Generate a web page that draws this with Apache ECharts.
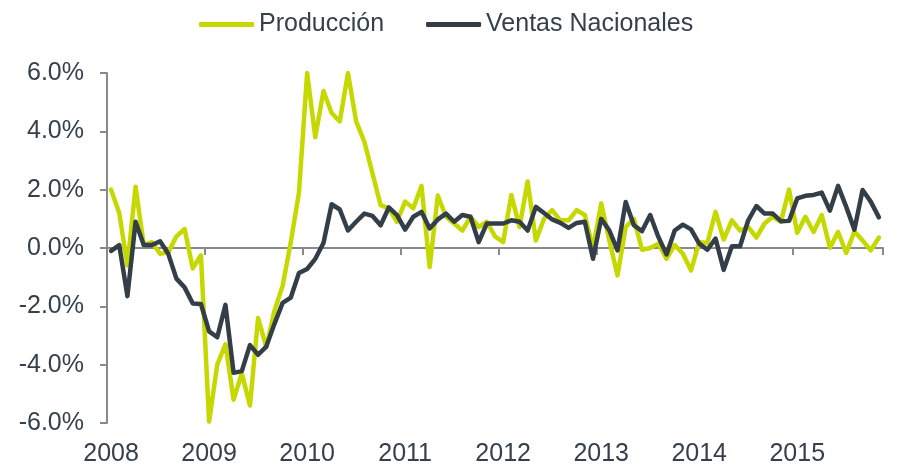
<!DOCTYPE html>
<html>
<head>
<meta charset="utf-8">
<script src="https://cdn.jsdelivr.net/npm/echarts@6/dist/echarts.min.js"></script>
<style>
html,body{margin:0;padding:0;background:#fff;}
#chart{width:898px;height:466px;}
</style>
</head>
<body>
<div id="chart"></div>
<script>
const years = ['2008','2009','2010','2011','2012','2013','2014','2015'];
const monthsInLastYear = 11;
const seriesNames = ['Producción', 'Ventas Nacionales'];

const produccion = [
  2.0, 1.2, -0.6, 2.1, 0.1, 0.2, -0.2, -0.15, 0.4, 0.65, -0.7, -0.25,
  -5.95, -4.0, -3.3, -5.2, -4.3, -5.4, -2.4, -3.4, -2.15, -1.3, 0.2, 1.9,
  6.0, 3.8, 5.38, 4.63, 4.34, 6.0, 4.34, 3.65, 2.56, 1.47, 1.36, 0.9,
  1.59, 1.36, 2.13, -0.65, 1.8, 1.07, 0.84, 0.6, 1.07, 0.72, 0.9, 0.4,
  0.2, 1.82, 0.72, 2.28, 0.26, 1.0, 1.3, 0.95, 0.95, 1.3, 1.13, -0.02,
  1.53, 0.26, -0.94, 0.72, 1.0, -0.06, 0.0, 0.15, -0.37, 0.1, -0.2, -0.77,
  0.2, 0.17, 1.24, 0.29, 0.95, 0.6, 0.72, 0.36, 0.84, 1.07, 0.9, 2.0,
  0.52, 1.07, 0.55, 1.13, 0.01, 0.55, -0.17, 0.57, 0.26, -0.08, 0.36
];

const ventasNacionales = [
  -0.1, 0.1, -1.65, 0.9, 0.1, 0.1, 0.23, -0.2, -1.05, -1.35, -1.9, -1.92,
  -2.86, -3.06, -1.95, -4.28, -4.22, -3.33, -3.66, -3.38, -2.6, -1.88, -1.7, -0.86,
  -0.72, -0.37, 0.17, 1.5, 1.32, 0.6, 0.9, 1.18, 1.1, 0.78, 1.39, 1.13,
  0.63, 1.07, 1.24, 0.67, 0.98, 1.18, 0.9, 1.13, 1.07, 0.2, 0.84, 0.84,
  0.84, 0.95, 0.9, 0.6, 1.41, 1.2, 0.98, 0.86, 0.69, 0.86, 0.9, -0.37,
  1.0, 0.6, -0.08, 1.58, 0.78, 0.58, 1.13, 0.38, -0.22, 0.6, 0.8, 0.64,
  0.15, -0.06, 0.32, -0.75, 0.06, 0.06, 0.95, 1.44, 1.18, 1.18, 0.92, 0.93,
  1.7, 1.79, 1.82, 1.9, 1.28, 2.13, 1.41, 0.63, 1.99, 1.59, 1.05
];

// month categories (axis only)
const categories = [];
years.forEach((y, yi) => {
  const n = yi === years.length - 1 ? monthsInLastYear : 12;
  for (let m = 1; m <= n; m++) categories.push(y + '-' + (m < 10 ? '0' + m : m));
});

const textColor = '#36404B';
const axisColor = '#898989';
const fontFamily = '"Liberation Sans", Arial, sans-serif';

const chart = echarts.init(document.getElementById('chart'));
chart.setOption({
  animation: false,
  backgroundColor: '#ffffff',
  legend: {
    data: seriesNames,
    left: 194,
    top: 7,
    icon: 'roundRect',
    itemWidth: 55,
    itemHeight: 5,
    itemGap: 42,
    textStyle: { fontSize: 25, color: textColor, fontFamily: fontFamily }
  },
  grid: { left: 107, right: 15, top: 73, bottom: 43, containLabel: false, outerBoundsMode: 'none' },
  xAxis: [
    {
      type: 'category',
      data: categories,
      boundaryGap: true,
      position: 'bottom',
      axisLine: { show: true, onZero: true, lineStyle: { color: axisColor, width: 2 } },
      axisTick: { show: true, length: 7, interval: (i) => i % 12 === 0, lineStyle: { color: axisColor, width: 2 } },
      axisLabel: { show: false },
      splitLine: { show: false }
    },
    {
      type: 'category',
      data: categories,
      boundaryGap: true,
      position: 'bottom',
      axisLine: { show: false, onZero: false },
      axisTick: { show: false },
      axisLabel: {
        show: true,
        interval: (i) => i % 12 === 0,
        formatter: (v) => v.slice(0, 4),
        margin: 19,
        fontSize: 25,
        color: textColor,
        fontFamily: fontFamily
      },
      splitLine: { show: false }
    }
  ],
  yAxis: {
    type: 'value',
    min: -6,
    max: 6,
    interval: 2,
    axisLine: { show: true, lineStyle: { color: axisColor, width: 2 } },
    axisTick: { show: true, length: 7, lineStyle: { color: axisColor, width: 2 } },
    axisLabel: {
      formatter: (v) => v.toFixed(1) + '%',
      margin: 23,
      fontSize: 25,
      color: textColor,
      fontFamily: fontFamily
    },
    splitLine: { show: false }
  },
  series: [
    {
      name: seriesNames[0],
      type: 'line',
      xAxisIndex: 0,
      data: produccion,
      showSymbol: false,
      symbol: 'none',
      color: '#C5D800',
      lineStyle: { color: '#C5D800', width: 4.5, join: 'round', cap: 'round' }
    },
    {
      name: seriesNames[1],
      type: 'line',
      xAxisIndex: 0,
      data: ventasNacionales,
      showSymbol: false,
      symbol: 'none',
      color: '#333E48',
      lineStyle: { color: '#333E48', width: 4.5, join: 'round', cap: 'round' }
    }
  ]
});
</script>
</body>
</html>
